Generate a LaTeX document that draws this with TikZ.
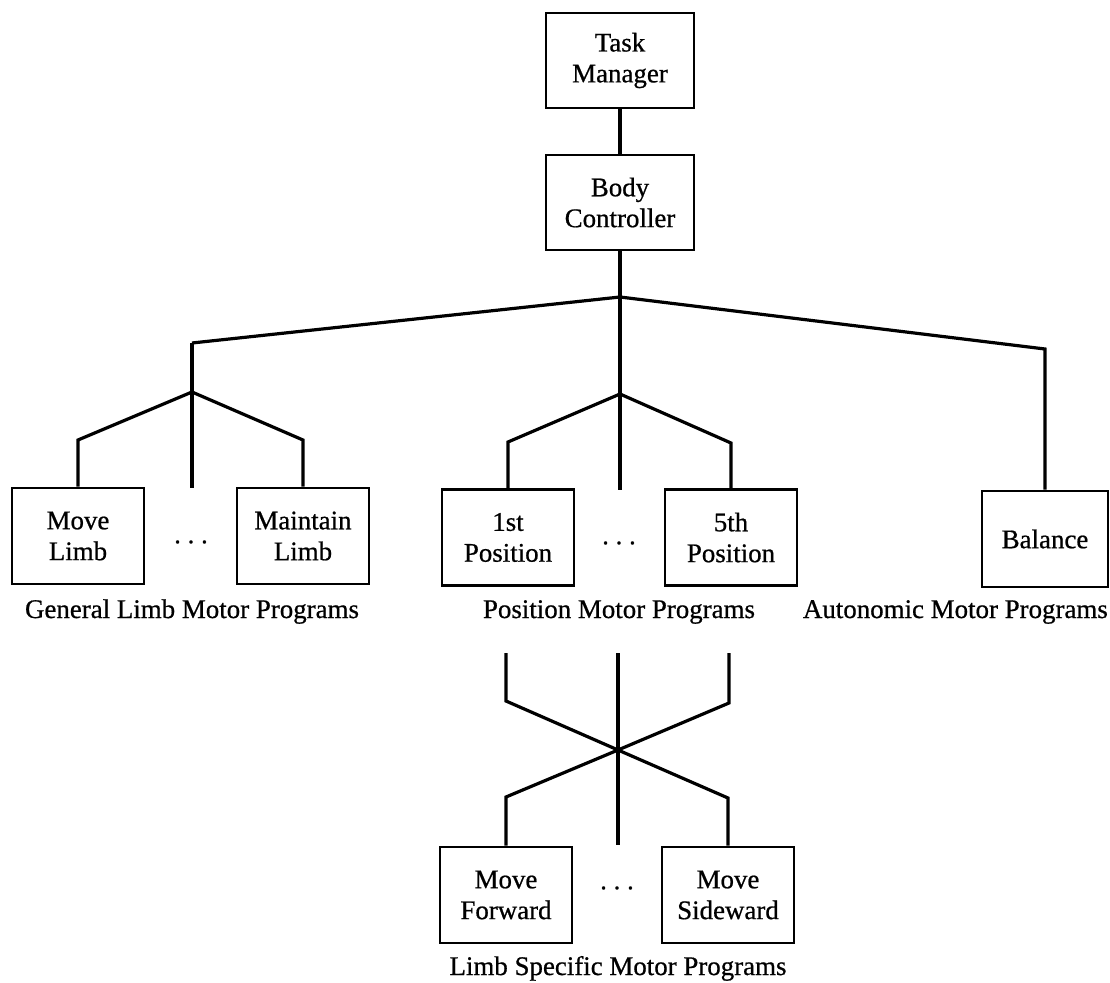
\documentclass[tikz,border=0pt]{standalone}
\usepackage{fontspec}
\setmainfont{Liberation Serif}[FakeBold=0.7]
\begin{document}
\begin{tikzpicture}[x=1bp,y=-1bp,
  txt/.style={font=\fontsize{27}{31}\selectfont},
  box/.style={txt, draw, line width=2.8bp, minimum width=132bp, minimum height=96bp,
              inner sep=0pt, align=center},
  topbox/.style={box, minimum width=148bp, minimum height=95bp},
  wire/.style={line width=3.2bp, line join=miter},
  grouplabel/.style={txt, inner sep=0pt, anchor=base},
  ellipsis/.style={txt, inner sep=0pt}]
\useasboundingbox (0,0) rectangle (1110,983);

% top of the hierarchy
\node[topbox] (tm) at (620,60.5) {Task\\Manager};
\node[topbox] (bc) at (620,202.5) {Body\\Controller};

% junction points of the upper tree
\coordinate (apex) at (620,297);
\coordinate (gl) at (192,343);
\coordinate (gr) at (1045,349);
\coordinate (sl) at (192,392);
\coordinate (sm) at (620,394);
\coordinate (sl1) at (78,440);
\coordinate (sl2) at (303,440);
\coordinate (sm1) at (508,442);
\coordinate (sm2) at (731,443);
\coordinate (slend) at (192,488);
\coordinate (smend) at (620,490);

% motor program boxes
\node[box] (ml) at (78,536) {Move\\Limb};
\node[box] (mt) at (303,536) {Maintain\\Limb};
\node[box] (p1) at (508,537.5) {1st\\Position};
\node[box] (p5) at (731,537.5) {5th\\Position};
\node[box, minimum width=126bp] (bal) at (1045,539) {Balance};

\node[ellipsis] (e1) at (191,542) {.\ .\ .};
\node[ellipsis] (e2) at (619,543) {.\ .\ .};

\node[grouplabel] (g1) at (192,618) {General Limb Motor Programs};
\node[grouplabel] (g2) at (619,618) {Position Motor Programs};
\node[grouplabel, anchor=base east] (g3) at (1108,618) {Autonomic Motor Programs};

\draw[wire] (tm) -- (bc);
\draw[wire] (bc) -- (apex) -- (sm) -- (smend);
\draw[wire] (gl) -- (apex) -- (gr) -- (bal);
\draw[wire] (gl) -- (sl) -- (slend);
\draw[wire] (ml) -- (sl1) -- (sl) -- (sl2) -- (mt);
\draw[wire] (p1) -- (sm1) -- (sm) -- (sm2) -- (p5);

% limb specific programs, reached through the crossing
\coordinate (t1) at (506,653);
\coordinate (t2) at (618,653);
\coordinate (t3) at (729,653);
\coordinate (c1) at (506,701);
\coordinate (c3) at (729,703);
\coordinate (cross) at (618,750);
\coordinate (d1) at (506,797);
\coordinate (d3) at (728,798);
\coordinate (b2) at (618,845);

\node[box] (mf) at (506,895) {Move\\Forward};
\node[box] (msw) at (728,895) {Move\\Sideward};
\node[ellipsis] (e3) at (617,888) {.\ .\ .};
\node[grouplabel] (g4) at (618,975) {Limb Specific Motor Programs};

\draw[wire] (t1) -- (c1) -- (cross) -- (d3) -- (msw);
\draw[wire] (t3) -- (c3) -- (cross) -- (d1) -- (mf);
\draw[wire] (t2) -- (b2);
\end{tikzpicture}
\end{document}
